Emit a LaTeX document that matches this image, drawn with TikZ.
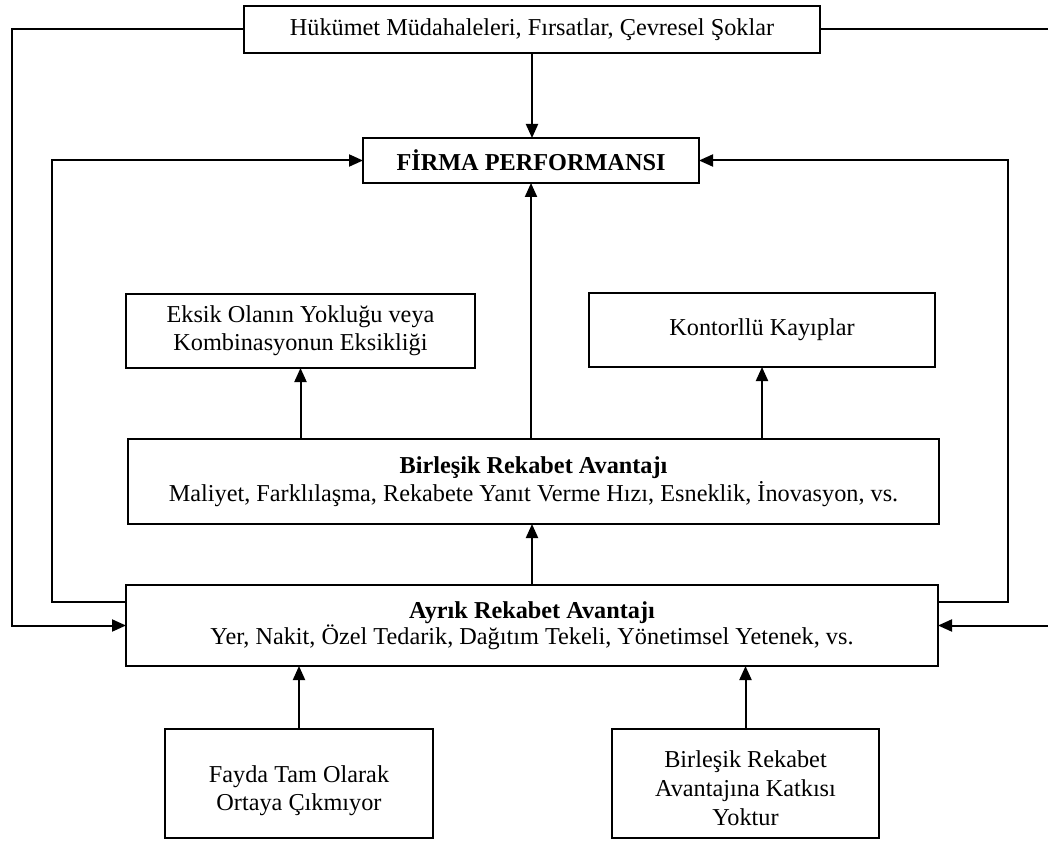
\documentclass[tikz,border=0pt]{standalone}
\usepackage{fontspec}
\setmainfont{Liberation Serif}
\usetikzlibrary{arrows.meta}

\begin{document}
\begin{tikzpicture}[x=0.75pt, y=-0.75pt,
  box/.style 2 args={draw, line width=1.5pt, inner sep=0pt, outer sep=0pt,
    align=center, minimum width=#1*0.75pt, minimum height=#2*0.75pt,
    font=\fontsize{18.2}{21}\selectfont},
  link/.style={line width=1.5pt},
  arr/.style={link, -{Triangle[length=10.5pt, width=9pt]}}
]
\useasboundingbox (0,0) rectangle (1048,841);
\clip (0,0) rectangle (1048,841);

% boxes
\node[box={576}{47}] (top) at (532,29.5) {Hükümet Müdahaleleri, Fırsatlar, Çevresel Şoklar};
\node[box={336}{45}, font=\fontsize{18.2}{22}\selectfont\bfseries] (firma) at (531,160.5) {FİRMA PERFORMANSI};
\node[box={349}{74}] (eksik) at (300.5,331) {Eksik Olanın Yokluğu veya\\Kombinasyonun Eksikliği};
\node[box={346}{74}] (kontrol) at (762,330) {Kontorllü Kayıplar};
\node[box={811}{85}] (birlesik) at (533.5,481.5) {\textbf{Birleşik Rekabet Avantajı}\\Maliyet, Farklılaşma, Rekabete Yanıt Verme Hızı, Esneklik, İnovasyon, vs.};
\node[box={812}{81}, font=\fontsize{18.2}{19.5}\selectfont] (ayrik) at (532,625.5) {\textbf{Ayrık Rekabet Avantajı}\\Yer, Nakit, Özel Tedarik, Dağıtım Tekeli, Yönetimsel Yetenek, vs.};
\node[box={268}{109}] (fayda) at (299,783.5) {\rule{0pt}{24pt}Fayda Tam Olarak\\Ortaya Çıkmıyor};
\node[box={267}{109}, font=\fontsize{18.2}{21.75}\selectfont] (katki) at (745.5,783.5) {\rule{0pt}{19pt}Birleşik Rekabet\\Avantajına Katkısı\\Yoktur};

% routing columns for the loops
\coordinate (outerL) at (12,0);
\coordinate (outerR) at (1050,0);
\coordinate (backL) at (52,0);
\coordinate (backR) at (1008,0);

% external influences
\draw[arr] (top.south) -- (top.south |- firma.north);
\draw[arr] (top.west) -| (outerL |- ayrik.west) -- (ayrik.west);
\draw[arr] (top.east) -| (outerR |- ayrik.east) -- (ayrik.east);

% feedback from discrete advantage to performance
\draw[arr] ([yshift=-12.75pt]ayrik.north west) -| (backL |- firma.west) -- (firma.west);
\draw[arr] ([yshift=-12.75pt]ayrik.north east) -| (backR |- firma.east) -- (firma.east);

% upward chain
\draw[arr] (firma.south |- birlesik.north) -- (firma.south);
\draw[arr] (eksik.south |- birlesik.north) -- (eksik.south);
\draw[arr] (kontrol.south |- birlesik.north) -- (kontrol.south);
\draw[arr] (ayrik.north) -- (ayrik.north |- birlesik.south);
\draw[arr] (fayda.north) -- (fayda.north |- ayrik.south);
\draw[arr] (katki.north) -- (katki.north |- ayrik.south);
\end{tikzpicture}
\end{document}
